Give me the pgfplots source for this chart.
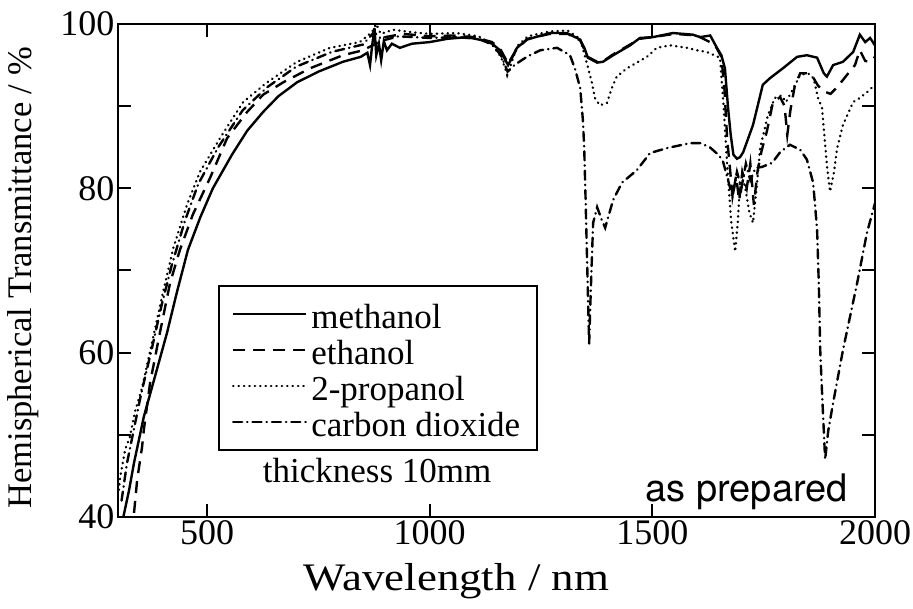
\documentclass[border=0pt]{standalone}
\usepackage{fontspec}
\setmainfont{Liberation Serif}
\newfontfamily\widserif{Liberation Serif}[FakeStretch=1.15]
\newfontfamily\notesans{TeX Gyre Heros}
\usepackage{pgfplots}
\pgfplotsset{compat=1.18}

% transmittance spectra, 10 mm samples
\pgfplotstableread{
x y
312 40.0
325 43.3
336 46.6
347 49.4
358 52.2
381 56.7
410 62.4
432 67.3
457 72.5
485 76.5
513 80.0
556 84.1
590 87.0
626 89.3
660 91.2
702 92.9
750 94.2
805 95.4
845 96.0
860 96.5
866 95.0
871 97.5
876 99.5
880 96.2
886 97.6
891 95.6
897 97.9
904 96.8
915 97.6
933 97.1
960 97.6
1000 97.8
1040 98.2
1084 98.4
1120 98.0
1140 97.6
1158 96.8
1168 95.8
1176 95.0
1186 96.0
1196 97.1
1218 98.1
1270 98.9
1308 98.9
1338 98.1
1348 97.0
1355 95.9
1376 95.3
1389 95.4
1412 96.2
1450 97.4
1472 98.3
1501 98.4
1546 98.9
1591 98.7
1607 98.4
1630 98.6
1645 97.1
1655 96.2
1663 94.6
1670 89.8
1676 86.5
1682 84.1
1690 83.6
1697 83.8
1704 84.4
1726 87.7
1748 92.6
1764 93.4
1793 94.6
1825 96.0
1847 96.2
1870 95.9
1885 94.0
1892 93.6
1906 95.0
1928 95.4
1951 96.6
1966 98.7
1978 97.8
1989 98.3
2000 97.4
}\methanol

\pgfplotstableread{
x y
336 40.5
343 44.5
354 48.5
358 50.6
372 56.3
394 62.4
417 68.5
439 72.5
468 76.8
507 81.3
545 86.1
590 89.3
626 91.4
671 92.9
731 94.6
805 96.2
850 96.8
882 97.7
900 98.4
940 98.8
1000 98.5
1050 98.6
1100 98.4
1140 97.8
1160 96.8
1176 95.2
1196 97.0
1220 98.2
1270 98.8
1310 98.8
1338 98.0
1355 96.0
1376 95.4
1390 95.5
1412 96.3
1450 97.5
1472 98.2
1500 98.4
1550 98.8
1600 98.6
1640 97.5
1655 96.0
1662 92.0
1668 86.0
1675 82.0
1680 79.0
1688 81.5
1695 78.5
1702 82.0
1712 80.0
1720 83.0
1728 78.0
1736 82.0
1745 84.5
1757 86.9
1771 90.5
1787 91.1
1797 90.0
1803 86.5
1810 89.5
1820 92.5
1832 94.0
1850 94.0
1861 93.5
1872 92.5
1885 91.8
1900 91.5
1915 92.3
1937 93.8
1955 95.0
1966 96.8
1978 95.5
1989 95.4
2000 96.0
}\ethanol

\pgfplotstableread{
x y
302 43.3
305 44.9
316 48.2
327 49.8
338 52.8
354 55.7
379 61.9
401 67.3
424 72.7
455 78.0
484 82.0
529 86.1
581 90.5
635 92.9
702 95.4
776 97.1
843 97.8
870 99.0
880 100.0
890 98.8
918 99.3
960 99.0
1000 98.8
1060 98.9
1110 98.5
1140 97.5
1160 96.0
1170 94.5
1174 93.8
1182 95.0
1196 97.3
1220 98.5
1270 99.1
1310 99.2
1338 98.2
1355 94.8
1364 92.9
1371 91.0
1382 90.1
1398 90.4
1409 92.2
1420 93.6
1443 94.6
1465 95.3
1488 96.0
1510 97.1
1540 97.4
1578 97.1
1600 96.8
1622 96.6
1652 95.9
1660 90.0
1668 82.8
1677 76.0
1686 72.3
1692 76.0
1697 80.8
1705 81.0
1712 79.0
1718 77.0
1726 75.8
1734 80.0
1742 84.9
1760 89.0
1775 91.0
1790 91.3
1800 90.5
1815 92.0
1832 93.8
1850 94.0
1862 93.4
1872 91.0
1881 89.8
1887 86.0
1892 82.8
1899 79.6
1908 82.0
1915 84.9
1928 87.7
1951 90.5
1966 91.0
1982 91.7
2000 92.6
}\propanol

\pgfplotstableread{
x y
308 42.0
320 46.5
335 50.5
352 55.0
376 60.5
398 65.8
420 70.5
450 76.0
480 80.5
525 85.0
580 89.5
635 92.3
700 94.8
780 96.6
850 97.5
875 99.0
895 98.0
930 98.5
1000 98.3
1060 98.4
1110 98.2
1140 97.5
1160 96.2
1175 94.2
1190 95.0
1218 96.0
1248 96.8
1286 97.1
1315 96.2
1326 94.6
1338 92.2
1344 88.3
1347 84.9
1350 78.8
1354 70.0
1358 61.0
1362 68.0
1367 75.8
1376 77.7
1386 76.2
1394 75.2
1412 78.6
1432 80.7
1465 82.2
1495 84.3
1533 84.9
1585 85.5
1607 85.5
1629 85.0
1650 84.0
1659 83.2
1670 81.0
1680 79.0
1690 82.0
1700 80.0
1710 83.0
1720 81.0
1732 82.5
1746 82.6
1769 83.1
1787 84.4
1809 85.3
1832 84.7
1847 83.5
1861 80.7
1865 78.2
1870 74.9
1874 68.0
1877 60.3
1882 54.0
1888 47.0
1895 50.5
1906 53.9
1928 60.3
1960 68.5
1982 74.6
2000 78.2
}\carbondioxide

\begin{document}
\begin{tikzpicture}
\useasboundingbox (-118pt,-92pt) rectangle (795pt,517pt);
\begin{axis}[
  scale only axis, width=757pt, height=493pt,
  xmin=300, xmax=2000, ymin=40, ymax=100,
  xtick={500,1000,1500,2000},
  ytick={40,60,80,100}, minor ytick={50,70,90},
  tick align=inside, major tick length=13pt, minor tick length=13pt,
  axis line style={line width=2.4pt},
  every tick/.style={line width=2pt, black},
  /pgf/number format/assume math mode=true,
  /pgf/number format/1000 sep={},
  tick label style={font=\fontsize{36}{40}\selectfont},
  xlabel={Wavelength / nm},
  ylabel={Hemispherical Transmittance / \%},
  xlabel style={font=\widserif\fontsize{39}{44}\selectfont,
    at={(axis description cs:0.447,-0.088)}, anchor=north},
  ylabel style={font=\fontsize{34.5}{40}\selectfont,
    at={(axis description cs:-0.1,0.485)}, anchor=south},
  legend cell align=left,
  legend image code/.code={\draw[#1] (0pt,0pt) -- (73pt,0pt);},
  legend style={at={(axis description cs:0.132,0.4706)}, anchor=north west,
    draw=black, line width=2pt, inner xsep=13pt, inner ysep=10pt,
    font=\fontsize{35}{38}\selectfont,
    nodes={inner xsep=4pt, inner ysep=1pt, text height=32pt, text depth=2pt}},
  every axis plot/.append style={line width=2.4pt, black},
]
\addplot[solid] table {\methanol};
\addlegendentry{methanol}
\addplot[dash pattern=on 12pt off 8pt] table {\ethanol};
\addlegendentry{ethanol}
\addplot[line cap=round, dash pattern=on 0.4pt off 5pt] table {\propanol};
\addlegendentry{2-propanol}
\addplot[line cap=round, dash pattern=on 9pt off 5pt on 0.4pt off 5pt] table {\carbondioxide};
\addlegendentry{carbon dioxide}

\node[font=\fontsize{35}{40}\selectfont] at (axis cs:882,45.7) {thickness 10mm};
\node[font=\notesans\fontsize{38}{44}\selectfont, anchor=base] at (axis cs:1712,41.85) {as prepared};
\end{axis}
\end{tikzpicture}
\end{document}
